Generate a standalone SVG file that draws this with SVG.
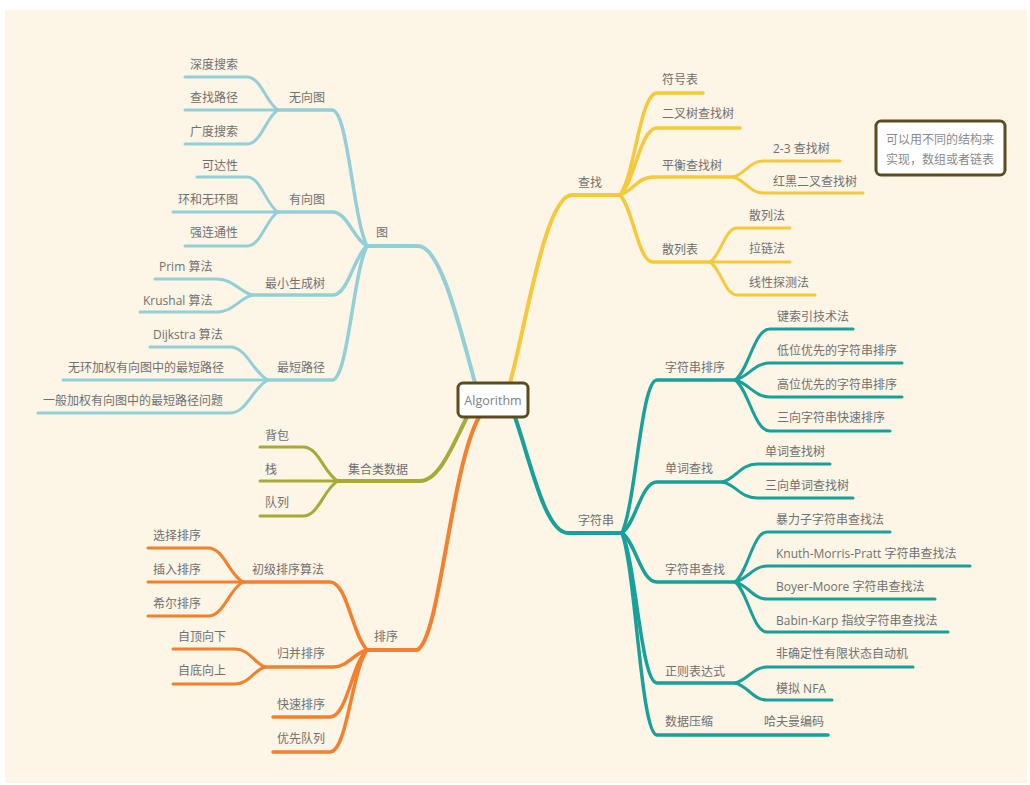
<svg xmlns="http://www.w3.org/2000/svg" width="1030" height="785" viewBox="0 0 1030 785">
<style>
text{font-family:"Open Sans","Noto Sans CJK SC",sans-serif;font-size:12px;fill:#707070;dominant-baseline:central}
.c path{fill:none;stroke-linecap:round}
.g path{stroke:#93cfd6}
.y path{stroke:#f5c93a}
.t path{stroke:#19a09b}
.o path{stroke:#a5ab36}
.s path{stroke:#f47f2c}
.l1{stroke-width:4}
.l2{stroke-width:3.5}
.l3{stroke-width:3}
.box{fill:#fff;stroke:#5c4b1e;stroke-width:3}
</style>
<rect x="5" y="10" width="1022" height="773" fill="#fdf5e6"/>
<g id="connectors" class="c">
<g class="g">
<path class="l1" d="M367,246 H418 C440,246 458,320 475,383"/>
<path class="l2" d="M278,110 H332 C348,110 353,219 367,246"/>
<path class="l3" d="M185,77 H247 C261,77 266,103 278,110"/>
<path class="l3" d="M185,110 H278"/>
<path class="l3" d="M185,144 H247 C261,144 266,117 278,110"/>
<path class="l2" d="M278,212 H332 C348,212 353,239 367,246"/>
<path class="l3" d="M197,177 H247 C261,177 266,205 278,212"/>
<path class="l3" d="M173,212 H278"/>
<path class="l3" d="M185,246 H247 C261,246 266,219 278,212"/>
<path class="l2" d="M252,295 H333 C348,295 354,256 367,246"/>
<path class="l3" d="M155,279 H217 C233,279 240,292 252,295"/>
<path class="l3" d="M140,312 H217 C233,312 240,298 252,295"/>
<path class="l2" d="M268,380 H332 C348,380 353,273 367,246"/>
<path class="l3" d="M150,347 H230 C247,347 253,373 268,380"/>
<path class="l3" d="M63,380 H268"/>
<path class="l3" d="M38,413 H230 C247,413 253,387 268,380"/>
</g>
<g class="o">
<path class="l1" d="M338,481 H420 C440,481 455,440 467,417"/>
<path class="l3" d="M260,447 H303 C319,447 324,474 338,481"/>
<path class="l3" d="M260,481 H338"/>
<path class="l3" d="M260,516 H303 C319,516 324,488 338,481"/>
</g>
<g class="s">
<path class="l1" d="M367,650 H417 C440,640 450,470 479,417"/>
<path class="l2" d="M243,582 H330 C347,582 352,634 367,650"/>
<path class="l3" d="M148,548 H208 C224,548 229,575 243,582"/>
<path class="l3" d="M148,582 H243"/>
<path class="l3" d="M148,616 H208 C224,616 229,589 243,582"/>
<path class="l2" d="M265,667 H333 C348,667 354,653 367,650"/>
<path class="l3" d="M173,649 H235 C249,649 254,663 265,667"/>
<path class="l3" d="M173,684 H235 C249,684 254,670 265,667"/>
<path class="l2" d="M273,717 H330 C347,717 352,663 367,650"/>
<path class="l2" d="M273,752 H330 C347,752 352,670 367,650"/>
</g>
<g class="y">
<path class="l1" d="M620,195 H572 C545,195 525,330 510,383"/>
<path class="l2" d="M620,195 C635,175 640,93 657,93 H703"/>
<path class="l2" d="M620,195 C635,182 640,128 657,128 H740"/>
<path class="l2" d="M620,195 C633,191 638,177 653,177 H733"/>
<path class="l3" d="M733,177 C745,174 750,161 763,161 H840"/>
<path class="l3" d="M733,177 C745,180 750,193 763,193 H863"/>
<path class="l2" d="M620,195 C633,208 638,262 653,262 H710"/>
<path class="l3" d="M710,262 C721,255 725,228 737,228 H790"/>
<path class="l3" d="M710,262 H790"/>
<path class="l3" d="M710,262 C721,269 725,295 737,295 H815"/>
</g>
<g class="t">
<path class="l1" d="M515,417 C530,460 545,533 568,533 H622"/>
<path class="l2" d="M622,533 C636,502 641,380 657,380 H735"/>
<path class="l3" d="M735,380 C749,370 754,329 770,329 H853"/>
<path class="l3" d="M735,380 C749,377 754,363 770,363 H902"/>
<path class="l3" d="M735,380 C749,383 754,397 770,397 H902"/>
<path class="l3" d="M735,380 C749,390 754,431 770,431 H890"/>
<path class="l2" d="M622,533 C636,523 641,482 657,482 H723"/>
<path class="l3" d="M723,482 C736,478 741,464 757,464 H830"/>
<path class="l3" d="M723,482 C736,485 741,498 757,498 H853"/>
<path class="l2" d="M622,533 C636,543 641,582 657,582 H735"/>
<path class="l3" d="M735,582 C748,572 753,532 767,532 H890"/>
<path class="l3" d="M735,582 C748,579 753,566 767,566 H970"/>
<path class="l3" d="M735,582 C748,585 753,599 767,599 H935"/>
<path class="l3" d="M735,582 C748,592 753,632 767,632 H948"/>
<path class="l2" d="M622,533 C636,563 641,683 657,683 H735"/>
<path class="l3" d="M735,683 C748,680 753,667 767,667 H913"/>
<path class="l3" d="M735,683 C748,686 753,700 767,700 H832"/>
<path class="l2" d="M622,533 C636,573 641,735 657,735 H828"/>
</g>
</g>
<g id="root"><rect class="box" x="458" y="383" width="70" height="34" rx="5"/><text x="493" y="400" text-anchor="middle" style="font-size:12.5px;fill:#808080">Algorithm</text></g>
<g id="note"><rect class="box" x="876" y="121" width="129" height="54" rx="5"/><text x="940" y="139" text-anchor="middle" style="fill:#8a8a8a">可以用不同的结构来</text><text x="940" y="159" text-anchor="middle" style="fill:#8a8a8a">实现，数组或者链表</text></g>
<g id="n-graph"><text x="376" y="232">图</text></g>
<g id="n-undirected"><text x="289" y="97">无向图</text></g>
<g id="n-dfs"><text x="190" y="64">深度搜索</text></g>
<g id="n-path"><text x="190" y="97">查找路径</text></g>
<g id="n-bfs"><text x="190" y="131">广度搜索</text></g>
<g id="n-directed"><text x="289" y="199">有向图</text></g>
<g id="n-reach"><text x="202" y="165">可达性</text></g>
<g id="n-cycle"><text x="178" y="199">环和无环图</text></g>
<g id="n-scc"><text x="190" y="232">强连通性</text></g>
<g id="n-mst"><text x="265" y="283">最小生成树</text></g>
<g id="n-prim"><text x="159" y="266">Prim 算法</text></g>
<g id="n-kruskal"><text x="143" y="300">Krushal 算法</text></g>
<g id="n-sp"><text x="277" y="367">最短路径</text></g>
<g id="n-dijkstra"><text x="153" y="334">Dijkstra 算法</text></g>
<g id="n-dag"><text x="68" y="367">无环加权有向图中的最短路径</text></g>
<g id="n-general"><text x="43" y="400">一般加权有向图中的最短路径问题</text></g>
<g id="n-coll"><text x="348" y="469">集合类数据</text></g>
<g id="n-bag"><text x="265" y="435">背包</text></g>
<g id="n-stack"><text x="265" y="469">栈</text></g>
<g id="n-queue"><text x="265" y="502">队列</text></g>
<g id="n-sort"><text x="374" y="636">排序</text></g>
<g id="n-elem"><text x="252" y="569">初级排序算法</text></g>
<g id="n-sel"><text x="153" y="535">选择排序</text></g>
<g id="n-ins"><text x="153" y="569">插入排序</text></g>
<g id="n-shell"><text x="153" y="603">希尔排序</text></g>
<g id="n-merge"><text x="277" y="653">归并排序</text></g>
<g id="n-td"><text x="178" y="636">自顶向下</text></g>
<g id="n-bu"><text x="178" y="670">自底向上</text></g>
<g id="n-quick"><text x="277" y="704">快速排序</text></g>
<g id="n-pq"><text x="277" y="738">优先队列</text></g>
<g id="n-search"><text x="578" y="182">查找</text></g>
<g id="n-st"><text x="662" y="79">符号表</text></g>
<g id="n-bst"><text x="662" y="113">二叉树查找树</text></g>
<g id="n-bal"><text x="662" y="165">平衡查找树</text></g>
<g id="n-23"><text x="773" y="148">2-3 查找树</text></g>
<g id="n-rb"><text x="773" y="181">红黑二叉查找树</text></g>
<g id="n-hash"><text x="662" y="249">散列表</text></g>
<g id="n-hashm"><text x="749" y="215">散列法</text></g>
<g id="n-chain"><text x="749" y="248">拉链法</text></g>
<g id="n-probe"><text x="749" y="282">线性探测法</text></g>
<g id="n-string"><text x="578" y="520">字符串</text></g>
<g id="n-ssort"><text x="665" y="367">字符串排序</text></g>
<g id="n-kic"><text x="777" y="316">键索引技术法</text></g>
<g id="n-lsd"><text x="777" y="350">低位优先的字符串排序</text></g>
<g id="n-msd"><text x="777" y="384">高位优先的字符串排序</text></g>
<g id="n-3q"><text x="777" y="417">三向字符串快速排序</text></g>
<g id="n-trie"><text x="665" y="468">单词查找</text></g>
<g id="n-trie1"><text x="765" y="451">单词查找树</text></g>
<g id="n-tst"><text x="765" y="485">三向单词查找树</text></g>
<g id="n-ss"><text x="665" y="569">字符串查找</text></g>
<g id="n-bf"><text x="776" y="519">暴力子字符串查找法</text></g>
<g id="n-kmp"><text x="776" y="553">Knuth-Morris-Pratt 字符串查找法</text></g>
<g id="n-bm"><text x="776" y="586">Boyer-Moore 字符串查找法</text></g>
<g id="n-rk"><text x="776" y="620">Babin-Karp 指纹字符串查找法</text></g>
<g id="n-re"><text x="665" y="671">正则表达式</text></g>
<g id="n-nfa"><text x="776" y="653">非确定性有限状态自动机</text></g>
<g id="n-snfa"><text x="776" y="688">模拟 NFA</text></g>
<g id="n-comp"><text x="665" y="721">数据压缩</text></g>
<g id="n-huff"><text x="764" y="721">哈夫曼编码</text></g>
</svg>
